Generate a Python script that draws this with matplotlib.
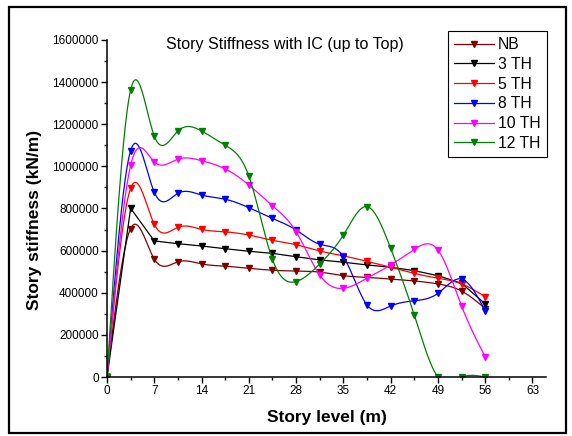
import numpy as np
import matplotlib
matplotlib.use('Agg')
import matplotlib.pyplot as plt
from matplotlib.lines import Line2D
from matplotlib.patches import Rectangle
from matplotlib.ticker import MultipleLocator, FuncFormatter

plt.rcParams['font.family'] = ['Liberation Sans', 'DejaVu Sans']

# story level (m)
level = [0, 3.5, 7, 10.5, 14, 17.5, 21, 24.5, 28, 31.5, 35, 38.5, 42, 45.5, 49, 52.5, 56]

# story stiffness (kN/m)
nb = [0, 705000, 560000, 547000, 537000, 526000, 516000, 507000, 503000, 498000, 481000,
      473000, 465000, 456000, 442000, 408000, 325000]
th3 = [0, 801000, 646000, 633000, 622000, 609000, 597000, 587000, 571000, 556000, 545000,
       532000, 521000, 505000, 481000, 445000, 347000]
th5 = [0, 896000, 725000, 711000, 701000, 689000, 674000, 649000, 628000, 598000, 575000,
       549000, 521000, 492000, 469000, 442000, 381000]
th8 = [0, 1075000, 877000, 872000, 864000, 844000, 804000, 753000, 698000, 630000, 571000,
       342000, 337000, 362000, 397000, 465000, 315000]
th10 = [0, 1005000, 1021000, 1034000, 1027000, 988000, 912000, 813000, 690000, 484000, 421000,
        469000, 532000, 606000, 603000, 337000, 96000]
th12 = [0, 1363000, 1144000, 1168000, 1168000, 1100000, 954000, 558000, 453000, 537000, 674000,
        809000, 611000, 294000, 0, 0, 0]

series = [
    ('NB', nb, '#800000', True),
    ('3 TH', th3, 'black', False),
    ('5 TH', th5, '#ff0000', True),
    ('8 TH', th8, '#0000ff', True),
    ('10 TH', th10, '#ff00ff', True),
    ('12 TH', th12, '#008000', True),
]


def natural_spline(x, y, xs):
    # natural cubic spline through the points, only for drawing the smooth line
    x = np.asarray(x, float)
    y = np.asarray(y, float)
    n = len(x)
    h = np.diff(x)
    A = np.zeros((n, n))
    b = np.zeros(n)
    A[0, 0] = A[-1, -1] = 1
    for i in range(1, n - 1):
        A[i, i - 1] = h[i - 1]
        A[i, i] = 2 * (h[i - 1] + h[i])
        A[i, i + 1] = h[i]
        b[i] = 6 * ((y[i + 1] - y[i]) / h[i] - (y[i] - y[i - 1]) / h[i - 1])
    m = np.linalg.solve(A, b)
    idx = np.clip(np.searchsorted(x, xs) - 1, 0, n - 2)
    x0, x1 = x[idx], x[idx + 1]
    hh = x1 - x0
    t0 = x1 - xs
    t1 = xs - x0
    return (m[idx] * t0 ** 3 / (6 * hh) + m[idx + 1] * t1 ** 3 / (6 * hh)
            + (y[idx] / hh - m[idx] * hh / 6) * t0 + (y[idx + 1] / hh - m[idx + 1] * hh / 6) * t1)


W, H = 572, 436
fig = plt.figure(figsize=(W / 100, H / 100), dpi=100)
ax = fig.add_axes([107 / W, 1 - 377 / H, 439 / W, 337 / H])

xs = np.linspace(level[0], level[-1], 600)
handles = []
for name, vals, color, smooth in series:
    if smooth:
        ax.plot(xs, natural_spline(level, vals, xs), color=color, lw=0.9)
    else:
        ax.plot(level, vals, color=color, lw=0.9)
    ax.plot(level, vals, 'v', color=color, ms=5, ls='none')
    handles.append(Line2D([], [], color=color, lw=0.9, marker='v', ms=4))

ax.set_xlim(0, 65)
ax.set_ylim(0, 1600000)
ax.xaxis.set_major_locator(MultipleLocator(7))
ax.xaxis.set_minor_locator(MultipleLocator(3.5))
ax.yaxis.set_major_locator(MultipleLocator(200000))
ax.yaxis.set_minor_locator(MultipleLocator(100000))
ax.yaxis.set_major_formatter(FuncFormatter(lambda v, p: f'{int(v)}'))
ax.set_xticks([0, 7, 14, 21, 28, 35, 42, 49, 56, 63])
ax.tick_params(which='major', direction='out', length=4, width=1, labelsize=8.5, pad=2)
ax.tick_params(which='minor', direction='out', length=2.5, width=1)
for s in ['top', 'right']:
    ax.spines[s].set_visible(False)
for s in ['left', 'bottom']:
    ax.spines[s].set_linewidth(1.1)

fig.text(285 / W, 1 - 45 / H, 'Story Stiffness with IC (up to Top)', ha='center', va='center', fontsize=11.5)
fig.text(327 / W, 1 - 417 / H, 'Story level (m)', ha='center', va='center', fontsize=12.5, fontweight='bold')
fig.text(35 / W, 1 - 220 / H, 'Story stiffness (kN/m)', ha='center', va='center', rotation=90,
         fontsize=12.5, fontweight='bold')

leg = fig.legend(handles, [s[0] for s in series], loc='upper left',
                 bbox_to_anchor=(448 / W, 1 - 31 / H), borderaxespad=0, fontsize=11.3,
                 fancybox=False, edgecolor='black', framealpha=1, handlelength=2.5,
                 handletextpad=0.3, labelspacing=0.3, borderpad=0.4)
leg.get_frame().set_linewidth(0.8)

# outer frame round the picture
fig.patches.append(Rectangle((9 / W, 3 / H), 557 / W, 426 / H, transform=fig.transFigure,
                             fill=False, edgecolor='black', lw=1.6))

fig.savefig('out.png', dpi=100)
